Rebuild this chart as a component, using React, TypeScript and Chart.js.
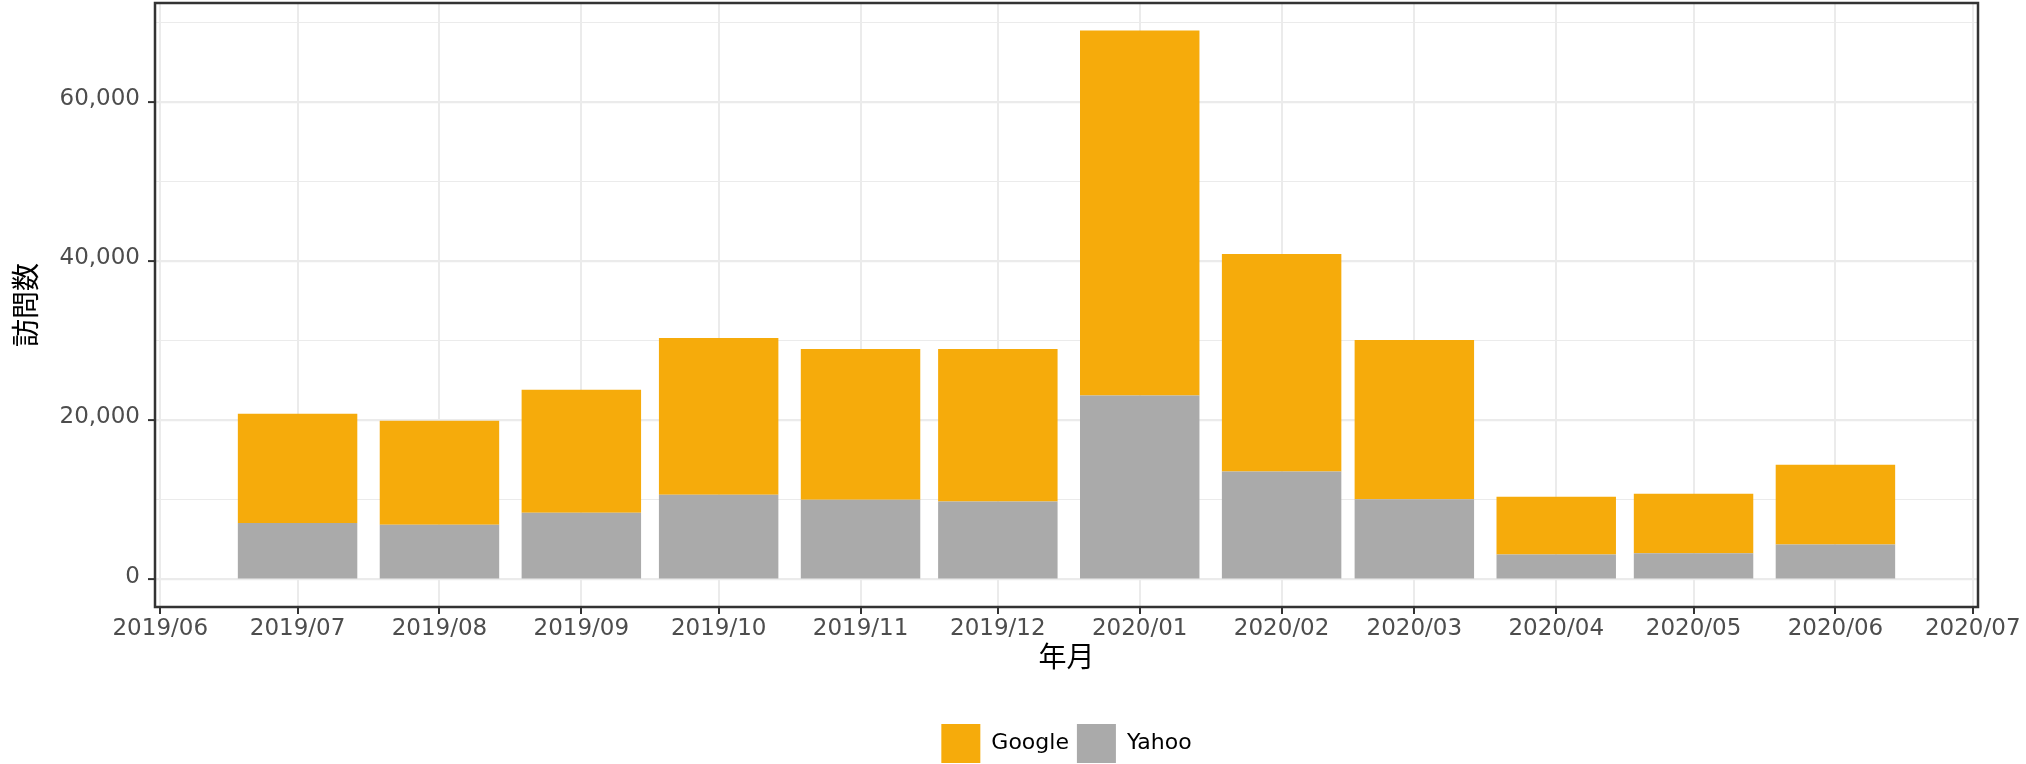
import React, { useEffect, useRef } from 'react';
import { Chart, registerables } from 'chart.js';

Chart.register(...registerables);

// ---- data ----
const months = [
  '2019/07', '2019/08', '2019/09', '2019/10', '2019/11', '2019/12',
  '2020/01', '2020/02', '2020/03', '2020/04', '2020/05', '2020/06',
];
const yahooVisits = [7110, 6900, 8410, 10670, 10040, 9820, 23120, 13590, 10080, 3140, 3300, 4390];
const googleVisits = [13720, 13050, 15430, 19690, 18940, 19160, 45890, 27310, 20030, 7270, 7490, 10040];
const xTickLabels = [
  '2019/06', '2019/07', '2019/08', '2019/09', '2019/10', '2019/11', '2019/12',
  '2020/01', '2020/02', '2020/03', '2020/04', '2020/05', '2020/06', '2020/07',
];
const yTickValues = [0, 10000, 20000, 30000, 40000, 50000, 60000, 70000];
const yLabelledTicks = [0, 20000, 40000, 60000];
const seriesNames = { google: 'Google', yahoo: 'Yahoo' };
const axisTitles = { x: '年月', y: '訪問数' };

// axis limits (days since 2019/06/01, visits)
const X_MIN = -1.15;
const X_MAX = 397.15;
const Y_MIN = -3450;
const Y_MAX = 72460;

const ORIGIN = Date.UTC(2019, 5, 1);
const dayOf = (label: string) => {
  const [y, m] = label.split('/').map(Number);
  return (Date.UTC(y, m - 1, 1) - ORIGIN) / 86400000;
};

const GOOGLE_COLOR = '#F6AB0B';
const YAHOO_COLOR = '#AAAAAA';
const GRID = '#EBEBEB';
const DARK = '#333333';
const TICK_TEXT = '#4D4D4D';
const LATIN = '"DejaVu Sans", Verdana, sans-serif';
const CJK = '"Noto Sans CJK JP", "Noto Sans", sans-serif';

const panelBorder = {
  id: 'panelBorder',
  afterDraw(chart: any) {
    const { ctx, chartArea } = chart;
    const { left, top, right, bottom } = chartArea;
    ctx.save();
    ctx.strokeStyle = DARK;
    ctx.lineWidth = 2.5;
    ctx.strokeRect(left, top, right - left, bottom - top);
    ctx.restore();
  },
};

export default function App() {
  const canvasRef = useRef<HTMLCanvasElement | null>(null);

  useEffect(() => {
    if (!canvasRef.current) return;
    const xTickDays = xTickLabels.map(dayOf);
    const chart = new Chart(canvasRef.current, {
      type: 'bar',
      data: {
        datasets: [
          {
            label: seriesNames.yahoo,
            data: months.map((m, i) => ({ x: dayOf(m), y: yahooVisits[i] })),
            backgroundColor: YAHOO_COLOR,
            borderWidth: 0,
            categoryPercentage: 1,
            barPercentage: 0.9,
          },
          {
            label: seriesNames.google,
            data: months.map((m, i) => ({ x: dayOf(m), y: googleVisits[i] })),
            backgroundColor: GOOGLE_COLOR,
            borderWidth: 0,
            categoryPercentage: 1,
            barPercentage: 0.9,
          },
        ],
      } as any,
      options: {
        animation: false,
        responsive: true,
        maintainAspectRatio: false,
        layout: { padding: { top: 3, right: 48, bottom: 0, left: 0 } },
        plugins: {
          tooltip: { enabled: false },
          legend: {
            position: 'bottom',
            fullSize: false,
            reverse: true,
            labels: {
              boxWidth: 39,
              boxHeight: 39,
              padding: 8,
              color: '#000000',
              font: { family: LATIN, size: 22 },
            },
          },
        },
        scales: {
          x: {
            type: 'linear',
            stacked: true,
            min: X_MIN,
            max: X_MAX,
            offset: false,
            afterBuildTicks: (scale: any) => {
              scale.ticks = xTickDays.map((v) => ({ value: v }));
            },
            afterFit: (scale: any) => {
              scale.height = 109;
              scale.paddingLeft = 0;
              scale.paddingRight = 0;
            },
            ticks: {
              autoSkip: false,
              maxRotation: 0,
              minRotation: 0,
              padding: 1,
              color: TICK_TEXT,
              font: { family: LATIN, size: 23 },
              callback: (_v: any, i: number) => xTickLabels[i],
            },
            grid: {
              offset: false,
              color: GRID,
              lineWidth: 2,
              drawTicks: true,
              tickLength: 7,
              tickWidth: 2,
              tickColor: DARK,
            },
            border: { display: false },
            title: {
              display: true,
              text: axisTitles.x,
              color: '#000000',
              font: { family: CJK, size: 28 },
              padding: { top: 0, bottom: 43 },
            },
          },
          y: {
            type: 'linear',
            stacked: true,
            min: Y_MIN,
            max: Y_MAX,
            afterBuildTicks: (scale: any) => {
              scale.ticks = yTickValues.map((v) => ({ value: v }));
            },
            afterFit: (scale: any) => {
              scale.width = 155;
              scale.paddingTop = 0;
              scale.paddingBottom = 0;
            },
            ticks: {
              padding: 8,
              labelOffset: -3,
              color: TICK_TEXT,
              font: { family: LATIN, size: 23 },
              callback: (v: any) =>
                yLabelledTicks.includes(Number(v)) ? Number(v).toLocaleString('en-US') : '',
            },
            grid: {
              color: GRID,
              lineWidth: (ctx: any) =>
                ctx.tick && yLabelledTicks.includes(ctx.tick.value) ? 2.2 : 1.1,
              drawTicks: true,
              tickLength: 7,
              tickWidth: 2,
              tickColor: (ctx: any) =>
                ctx.tick && yLabelledTicks.includes(ctx.tick.value) ? DARK : 'rgba(0,0,0,0)',
            },
            border: { display: false },
            title: {
              display: true,
              text: axisTitles.y,
              color: '#000000',
              font: { family: CJK, size: 28 },
              padding: { top: 9, bottom: 0 },
            },
          },
        },
      } as any,
      plugins: [panelBorder],
    });
    return () => chart.destroy();
  }, []);

  return (
    <div style={{ position: 'fixed', left: 0, top: 0, width: 2026, height: 773, background: '#ffffff' }}>
      <canvas ref={canvasRef} />
    </div>
  );
}
